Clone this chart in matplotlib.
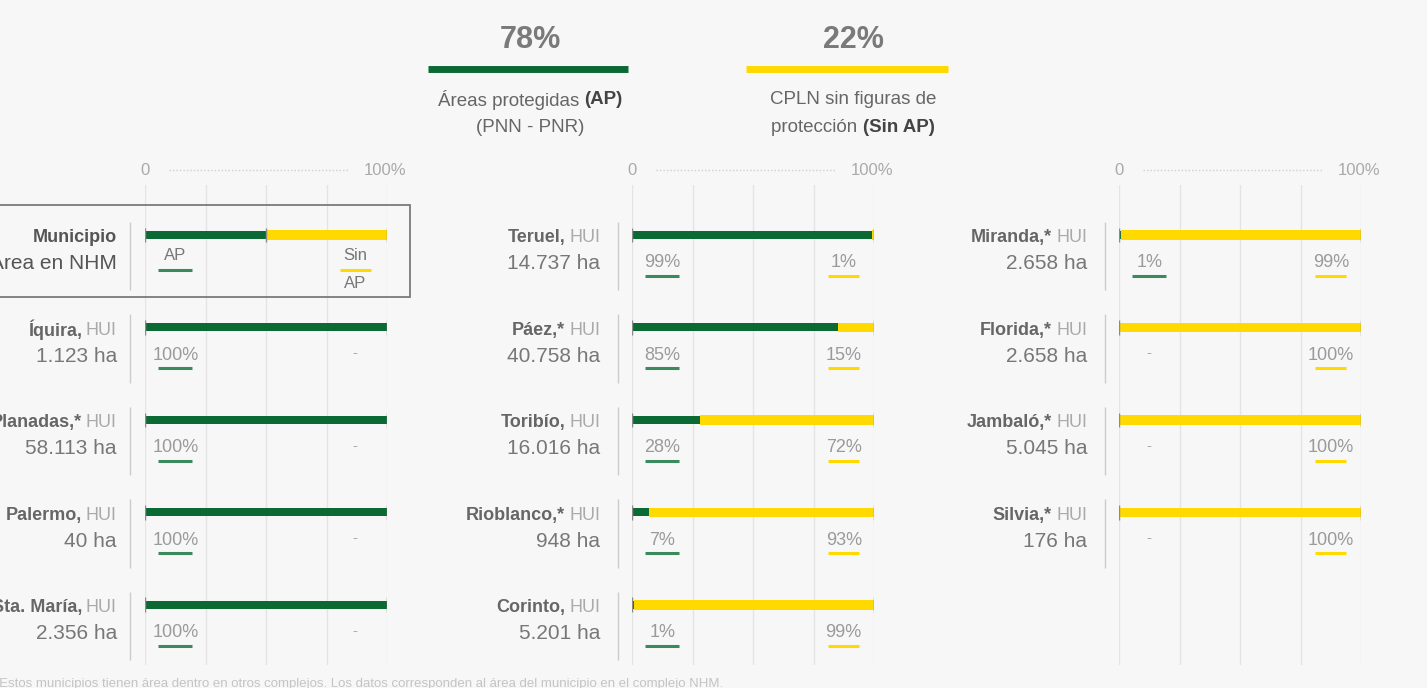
import matplotlib
matplotlib.use("Agg")
import matplotlib.pyplot as plt
from matplotlib import font_manager
from matplotlib.patches import Rectangle
from matplotlib.lines import Line2D

# ---------------- data ----------------
nombres = ["Íquira", "Planadas", "Palermo", "Sta. María",
           "Teruel", "Páez", "Toribío", "Rioblanco", "Corinto",
           "Miranda", "Florida", "Jambaló", "Silvia"]
asterisco = [False, True, False, False,
             False, True, False, True, False,
             True, True, True, True]
departamento = ["HUI", "HUI", "HUI", "HUI",
                "HUI", "HUI", "HUI", "HUI", "HUI",
                "HUI", "HUI", "HUI", "HUI"]
area_ha = ["1.123", "58.113", "40", "2.356",
           "14.737", "40.758", "16.016", "948", "5.201",
           "2.658", "2.658", "5.045", "176"]
pct_ap = [100, 100, 100, 100,
          99, 85, 28, 7, 1,
          1, 0, 0, 0]
pct_sin_ap = [0, 0, 0, 0,
              1, 15, 72, 93, 99,
              99, 100, 100, 100]
panel_idx = [0, 0, 0, 0, 1, 1, 1, 1, 1, 2, 2, 2, 2]
fila = [1, 2, 3, 4, 0, 1, 2, 3, 4, 0, 1, 2, 3]

total_ap = 78
total_sin_ap = 22
leyenda_ap = 50
leyenda_sin_ap = 50
eje_ticks = [0, 25, 50, 75, 100]

# ---------------- style ----------------
names = {f.name for f in font_manager.fontManager.ttflist}
FONT = "Liberation Sans Narrow" if "Liberation Sans Narrow" in names else "Liberation Sans"
plt.rcParams["font.family"] = [FONT, "DejaVu Sans"]

GREEN = "#0b6a34"
GREEN_UL = "#3b8a5e"
YELLOW = "#ffd900"
BG = "#f7f7f7"
GRID = "#e4e4e4"

W, H = 1427, 688
fig = plt.figure(figsize=(W / 100, H / 100), dpi=100, facecolor=BG)
renderer = fig.canvas.get_renderer()


def text_w(s, size, weight="normal"):
    t = fig.text(0, 0, s, fontsize=size, fontweight=weight)
    w = t.get_window_extent(renderer).width
    t.remove()
    return w


def fx(px):
    return px / W


def fy(py):
    return 1 - py / H


# ---------------- top legend ----------------
def rich_center(xc, yp, parts, size):
    widths = [text_w(s, size, wgt) for s, wgt, c in parts]
    x = xc - sum(widths) / 2
    for (s, wgt, c), w in zip(parts, widths):
        fig.text(fx(x), fy(yp), s, fontsize=size, fontweight=wgt, color=c,
                 ha="left", va="center")
        x += w


for xc, val, col, x0, x1, lines in [
    (530, total_ap, GREEN, 428, 628,
     [[("Áreas protegidas ", "normal", "#666666"), ("(AP)", "bold", "#444444")],
      [("(PNN - PNR)", "normal", "#666666")]]),
    (853, total_sin_ap, YELLOW, 746, 948,
     [[("CPLN sin figuras de", "normal", "#666666")],
      [("protección ", "normal", "#666666"), ("(Sin AP)", "bold", "#444444")]]),
]:
    fig.text(fx(xc), fy(40), f"{val}%", fontsize=22, fontweight="bold",
             color="#7a7a7a", ha="center", va="center")
    fig.add_artist(Line2D([fx(x0), fx(x1)], [fy(69), fy(69)], color=col,
                          lw=5, solid_capstyle="butt"))
    rich_center(xc, 100, lines[0], 13.5)
    rich_center(xc, 128, lines[1], 13.5)

# ---------------- panels ----------------
bar_start = [145, 632, 1119]
bar_len = 242
name_x = [-11.6, -13.2, -13.2]
sep_x = [-6.2, -5.8, -5.8]
top_px, bot_px = 185, 665
axes = []
for p in range(3):
    ax = fig.add_axes([fx(bar_start[p]), 1 - bot_px / H, bar_len / W, (bot_px - top_px) / H])
    ax.set_xlim(0, 100)
    ax.set_ylim(4.65, -0.54)
    ax.axis("off")
    for t in eje_ticks:
        ax.axvline(t, color=GRID, lw=1, zorder=0)
    # header
    ax.text(0, -0.70, "0", ha="center", va="center", fontsize=12, color="#aaaaaa", clip_on=False)
    ax.text(108, -0.70, "100%", ha="right", va="center", fontsize=12, color="#aaaaaa", clip_on=False)
    ax.plot([10, 84], [-0.70, -0.70], ls=(0, (1, 1.5)), color="#cfcfcf", lw=1, clip_on=False)
    axes.append(ax)


def name_label(ax, x, y, bold, light):
    ax.annotate(light, xy=(x, y), ha="right", va="center", fontsize=13,
                color="#aaaaaa", annotation_clip=False)
    w = text_w(light, 13)
    ax.annotate(bold, xy=(x, y), xytext=(-(w + 4), 0), textcoords="offset pixels",
                ha="right", va="center", fontsize=13, fontweight="bold",
                color="#666666", annotation_clip=False)


def draw_row(ax, p, r, ap, sin):
    ax.barh(r, ap, height=0.085, color=GREEN, zorder=3)
    ax.barh(r, sin, left=ap, height=0.1, color=YELLOW, zorder=2)
    ax.vlines([0, 100], r - 0.08, r + 0.08, color="#8a8a8a", lw=1, zorder=4)
    ax.vlines(sep_x[p], r - 0.14, r + 0.6, color="#cccccc", lw=1, clip_on=False)


for i in range(len(nombres)):
    p, r = panel_idx[i], fila[i]
    ax = axes[p]
    draw_row(ax, p, r, pct_ap[i], pct_sin_ap[i])
    nm = nombres[i] + (",*" if asterisco[i] else ",")
    name_label(ax, name_x[p], r + 0.03, nm, departamento[i])
    ax.text(name_x[p], r + 0.31, f"{area_ha[i]} ha", ha="right", va="center",
            fontsize=15, color="#777777", clip_on=False)
    # left label (AP)
    if pct_ap[i] > 0:
        ax.text(12.5, r + 0.30, f"{pct_ap[i]}%", ha="center", va="center",
                fontsize=13, color="#9a9a9a")
        ax.plot([5.5, 19.5], [r + 0.44, r + 0.44], color=GREEN_UL, lw=2.2,
                solid_capstyle="butt")
    else:
        ax.text(12.5, r + 0.28, "-", ha="center", va="center", fontsize=11, color="#aaaaaa")
    # right label (Sin AP)
    if pct_sin_ap[i] > 0:
        ax.text(87.5, r + 0.30, f"{pct_sin_ap[i]}%", ha="center", va="center",
                fontsize=13, color="#9a9a9a")
        ax.plot([81, 94], [r + 0.44, r + 0.44], color=YELLOW, lw=2.2,
                solid_capstyle="butt")
    else:
        ax.text(86.8, r + 0.28, "-", ha="center", va="center", fontsize=11, color="#aaaaaa")

# legend row in panel 1
ax = axes[0]
r = 0
ax.barh(r, leyenda_ap, height=0.085, color=GREEN, zorder=3)
ax.barh(r, leyenda_sin_ap, left=leyenda_ap, height=0.1, color=YELLOW, zorder=2)
ax.vlines([0, leyenda_ap, 100], r - 0.08, r + 0.08, color="#8a8a8a", lw=1, zorder=4)
ax.vlines(sep_x[0], r - 0.14, r + 0.6, color="#cccccc", lw=1, clip_on=False)
ax.text(name_x[0], r + 0.03, "Municipio", ha="right", va="center", fontsize=13,
        fontweight="bold", color="#555555", clip_on=False)
ax.text(name_x[0], r + 0.31, "Área en NHM", ha="right", va="center", fontsize=15,
        color="#555555", clip_on=False)
ax.text(12.5, r + 0.22, "AP", ha="center", va="center", fontsize=12, color="#777777")
ax.plot([5.5, 19.5], [r + 0.38, r + 0.38], color=GREEN_UL, lw=2.2, solid_capstyle="butt")
ax.text(86.8, r + 0.22, "Sin", ha="center", va="center", fontsize=12, color="#777777")
ax.plot([80.5, 93.5], [r + 0.38, r + 0.38], color=YELLOW, lw=2.2, solid_capstyle="butt")
ax.text(86.8, r + 0.53, "AP", ha="center", va="center", fontsize=12, color="#777777")
ax.add_patch(Rectangle((-62, -0.32), 171.5, 0.99, fill=False, edgecolor="#7a7a7a",
                       lw=1.3, clip_on=False, zorder=5))

# footer
fig.text(-0.004, fy(684), "*Estos municipios tienen área dentro en otros complejos. "
         "Los datos corresponden al área del municipio en el complejo NHM.",
         fontsize=9.5, color="#c4c4c4", ha="left", va="center")

fig.savefig("out.png", dpi=100, facecolor=BG)
